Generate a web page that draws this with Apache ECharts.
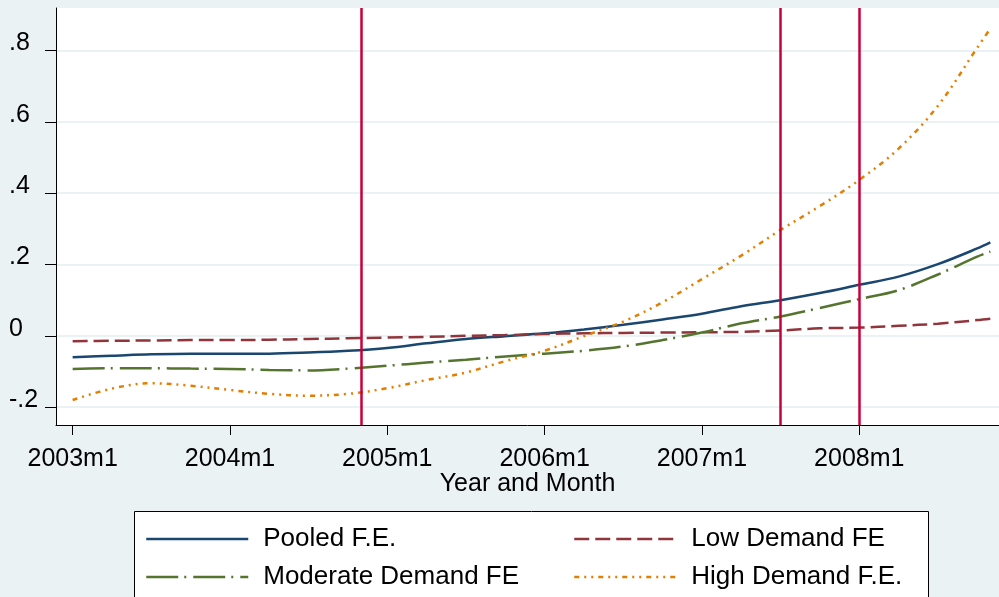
<!DOCTYPE html>
<html>
<head>
<meta charset="utf-8">
<title>Fixed effects by month</title>
<script src="https://cdn.jsdelivr.net/npm/echarts@6/dist/echarts.min.js"></script>
<style>
    html, body { margin: 0; padding: 0; background: #eaf2f3; }
    #chart { width: 999px; height: 597px; }
</style>
</head>
<body>
<div id="chart"></div>
<script>
// months since 2003m1
const months = [0, 3, 6, 9, 12, 15, 18, 21, 24, 27, 30, 33, 36, 39, 42, 45, 48, 51, 54, 57, 60, 63, 66, 69, 70];

const pooled = [-0.060, -0.056, -0.052, -0.050, -0.050, -0.050, -0.047, -0.042, -0.034, -0.021, -0.009, -0.001, 0.007,
    0.018, 0.031, 0.046, 0.062, 0.083, 0.100, 0.120, 0.143, 0.166, 0.201, 0.245, 0.262];
const lowDemand = [-0.015, -0.014, -0.013, -0.012, -0.012, -0.011, -0.009, -0.007, -0.005, -0.003, 0.000, 0.002, 0.005,
    0.007, 0.008, 0.009, 0.010, 0.011, 0.015, 0.021, 0.023, 0.028, 0.034, 0.044, 0.048];
const moderateDemand = [-0.093, -0.091, -0.091, -0.092, -0.093, -0.096, -0.097, -0.092, -0.084, -0.075, -0.067, -0.058, -0.050,
    -0.042, -0.030, -0.012, 0.009, 0.035, 0.054, 0.078, 0.103, 0.128, 0.172, 0.222, 0.236];
const highDemand = [-0.180, -0.148, -0.133, -0.140, -0.152, -0.163, -0.168, -0.163, -0.147, -0.124, -0.103, -0.071, -0.042,
    -0.001, 0.040, 0.094, 0.159, 0.225, 0.297, 0.364, 0.437, 0.525, 0.645, 0.808, 0.862];

// vertical reference lines: 2004m11, 2007m7, 2008m1
const eventMonths = [22, 54, 60];

const xTicks = [0, 12, 24, 36, 48, 60];
const xTickLabels = ['2003m1', '2004m1', '2005m1', '2006m1', '2007m1', '2008m1'];
const yTicks = [-0.2, 0, 0.2, 0.4, 0.6, 0.8];
const yTickLabels = ['-.2', '0', '.2', '.4', '.6', '.8'];

const seriesNames = ['Pooled F.E.', 'Low Demand FE', 'Moderate Demand FE', 'High Demand F.E.'];

const FONT = '"Liberation Sans", Arial, sans-serif';

function pairs(values) {
    return months.map((m, i) => [m, values[i]]);
}

function lineSeries(name, values, color, type) {
    return {
        name: name,
        type: 'line',
        data: pairs(values),
        smooth: 0.35,
        showSymbol: false,
        symbol: 'none',
        z: 3,
        itemStyle: { color: color },
        lineStyle: { color: color, width: 2.5, type: type }
    };
}

// one legend column, Stata-like: long line key then text
function legendColumn(names, left) {
    return {
        data: names,
        orient: 'vertical',
        left: left,
        top: 526,
        itemWidth: 102,
        itemHeight: 14,
        itemGap: 12,
        padding: 0,
        itemStyle: { opacity: 0 },
        lineStyle: { opacity: 1, width: 2.5 },
        textStyle: {
            fontFamily: FONT,
            fontSize: 26,
            lineHeight: 26,
            color: '#000',
            padding: [0, 0, 0, 10]
        }
    };
}

let chart = echarts.init(document.getElementById('chart'), null, { renderer: 'canvas' });

let option = {
    backgroundColor: '#eaf2f3',
    animation: false,
    textStyle: { fontFamily: FONT, color: '#000' },
    grid: {
        left: 56,
        top: 8,
        right: 0,
        bottom: 172,
        show: true,
        backgroundColor: '#fff',
        borderWidth: 0
    },
    legend: [
        legendColumn([seriesNames[0], seriesNames[2]], 145),
        legendColumn([seriesNames[1], seriesNames[3]], 573)
    ],
    graphic: [{
        type: 'rect',
        left: 134,
        top: 511,
        z: -1,
        shape: { width: 794, height: 120 },
        style: { fill: '#fff', stroke: '#000', lineWidth: 1 }
    }],
    xAxis: {
        type: 'value',
        min: -1.27,
        max: 70.66,
        name: 'Year and Month',
        nameLocation: 'middle',
        nameGap: 47,
        nameMoveOverlap: false,
        nameTextStyle: { fontFamily: FONT, fontSize: 25, color: '#000' },
        axisLine: { onZero: false, lineStyle: { color: '#000', width: 1 } },
        axisTick: { show: true, length: 10, customValues: xTicks, lineStyle: { color: '#000' } },
        axisLabel: {
            customValues: xTicks,
            margin: 22,
            fontSize: 25,
            color: '#000',
            fontFamily: FONT,
            formatter: v => xTickLabels[xTicks.indexOf(v)]
        },
        splitLine: { show: false }
    },
    yAxis: {
        type: 'value',
        min: -0.2502,
        max: 0.9195,
        axisLine: { show: true, onZero: false, lineStyle: { color: '#000', width: 1 } },
        axisTick: { show: true, length: 11, customValues: yTicks, lineStyle: { color: '#000' } },
        axisLabel: {
            customValues: yTicks,
            margin: 47,
            align: 'left',
            verticalAlign: 'bottom',
            lineHeight: 14,
            fontSize: 25,
            color: '#000',
            fontFamily: FONT,
            formatter: v => yTickLabels[yTicks.indexOf(v)]
        },
        splitLine: { show: true, lineStyle: { color: '#eaf2f3', width: 2 } }
    },
    series: [
        {
            // carries the red vertical lines under the curves
            name: 'events',
            type: 'line',
            data: [],
            z: 1,
            silent: true,
            markLine: {
                symbol: 'none',
                silent: true,
                label: { show: false },
                lineStyle: { color: '#c8003a', width: 2.5, type: 'solid' },
                data: eventMonths.map(m => ({ xAxis: m }))
            }
        },
        lineSeries(seriesNames[0], pooled, '#1a476f', 'solid'),
        lineSeries(seriesNames[1], lowDemand, '#90353b', [15, 6]),
        lineSeries(seriesNames[2], moderateDemand, '#55752f', [32, 6, 2, 7]),
        lineSeries(seriesNames[3], highDemand, '#e37e00', [5, 5, 2, 5, 2, 5])
    ]
};

chart.setOption(option);
</script>
</body>
</html>
